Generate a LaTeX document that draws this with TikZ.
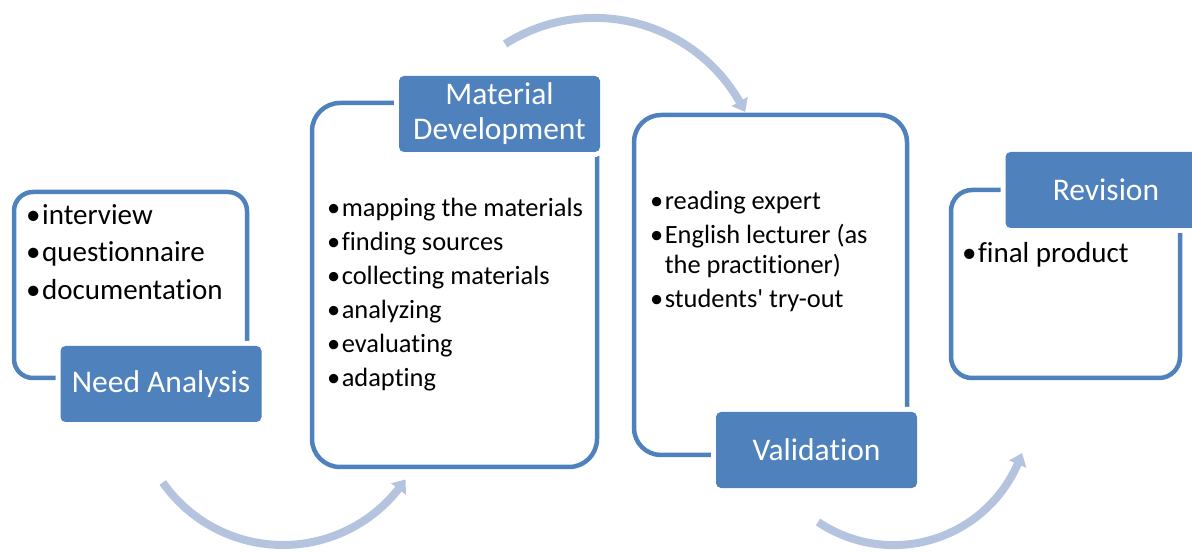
\documentclass[tikz,border=0pt]{standalone}
\usepackage{fontspec}
\setmainfont{Carlito}[Ligatures={NoCommon}]
\usetikzlibrary{arrows.meta,bending,calc}
\definecolor{sablue}{HTML}{4F81BD}
\definecolor{arrowblue}{HTML}{B4C4DF}
\newcommand{\bul}{•\hspace{1.5pt}}
\tikzset{
  frame/.style={draw=sablue, line width=4.5pt, rectangle, inner sep=0pt, outer sep=0pt},
  titlebox/.style={rectangle, rounded corners=5pt, fill=sablue, text=white, inner sep=0pt,
    minimum width=201pt, minimum height=76pt, align=center,
    font=\fontsize{31.5}{35}\selectfont, preaction={draw=white, line width=10pt}},
  bigitem/.style={anchor=base west, inner sep=0pt, font=\fontsize{29}{35}\selectfont},
  smallitem/.style={anchor=base west, inner sep=0pt, font=\fontsize{26.4}{30}\selectfont},
  cyclearrow/.style={draw=arrowblue, line width=8pt, -{Triangle[width=18pt,length=12pt,bend]}}
}
\begin{document}
\begin{tikzpicture}[x=1pt,y=1pt]
\useasboundingbox (0,0) rectangle (1192,552);
\begin{scope}
\clip (0,0) rectangle (1192,552);
% frames
\node[frame, rounded corners=19pt, minimum width=233pt, minimum height=186pt] (f1) at (130.5,267) {};
\node[frame, rounded corners=28pt, minimum width=285pt, minimum height=364pt] (f2) at (454.5,267) {};
\node[frame, rounded corners=27pt, minimum width=273pt, minimum height=340pt] (f3) at (770.5,267) {};
\node[frame, rounded corners=21pt, minimum width=229pt, minimum height=188pt] (f4) at (1065.5,268) {};
% title boxes
\node[titlebox] (t1) at (161,168) {Need Analysis};
\node[titlebox] (t2) at (499.5,438) {Material\\Development};
\node[titlebox] (t3) at (816.5,102) {Validation};
\node[titlebox] (t4) at (1106,362) {Revision};
% list texts
\node[bigitem] (n1a) at (26,327) {\bul interview};
\node[bigitem] (n1b) at (26,290) {\bul questionnaire};
\node[bigitem] (n1c) at (26,252) {\bul documentation};
\node[smallitem] (n2a) at (327,335) {\bul mapping the materials};
\node[smallitem] (n2b) at (327,301) {\bul finding sources};
\node[smallitem] (n2c) at (327,267) {\bul collecting materials};
\node[smallitem] (n2d) at (327,233) {\bul analyzing};
\node[smallitem] (n2e) at (327,199) {\bul evaluating};
\node[smallitem] (n2f) at (327,165) {\bul adapting};
\node[smallitem] (n3a) at (650,342) {\bul reading expert};
\node[smallitem] (n3b) at (650,308) {\bul English lecturer (as};
\node[smallitem] (n3c) at (650,278) {\phantom{\bul}the practitioner)};
\node[smallitem] (n3d) at (650,244) {\bul students\textquotesingle\ try-out};
\node[bigitem] (n4a) at (962,289) {\bul final product};
% cycle arrows
\coordinate (a1) at ($(283,154)+(215.1:147)$);
\coordinate (a2) at ($(594.7,366.9)+(122.4:167.2)$);
\coordinate (a3) at ($(893.7,142.2)+(236:135.3)$);
\draw[cyclearrow] (a1) arc[start angle=215.1, end angle=326.4, radius=147];
\draw[cyclearrow] (a2) arc[start angle=122.4, end angle=25.9, radius=167.2];
\draw[cyclearrow] (a3) arc[start angle=236, end angle=341.4, radius=135.3];
\end{scope}
\end{tikzpicture}
\end{document}
